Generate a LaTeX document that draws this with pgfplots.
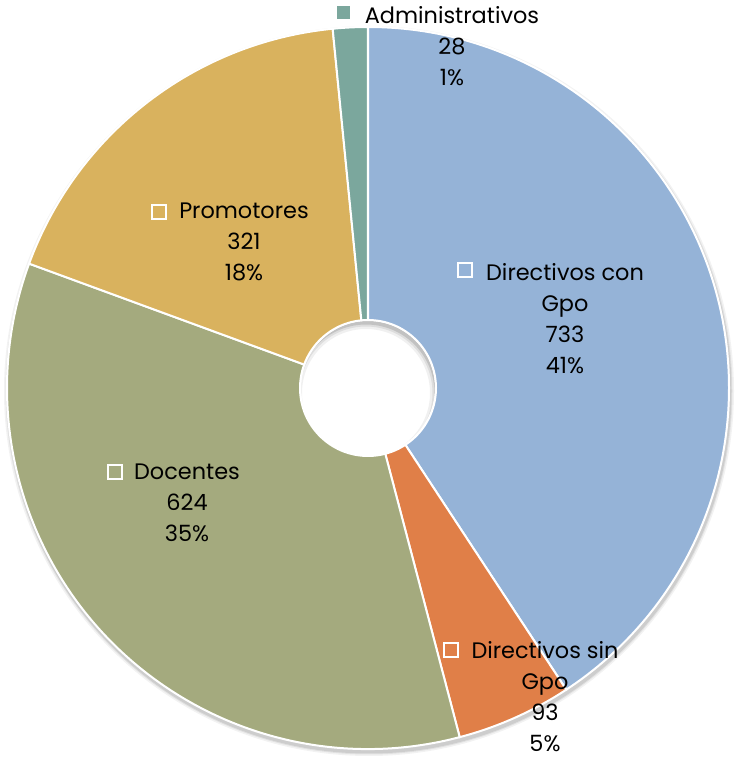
\documentclass[border=0pt]{standalone}
\usepackage{pgfplots}
\pgfplotsset{compat=1.18}
\usepackage{pgfplotstable}
\usepackage{fontspec}
\setmainfont{Poppins}

\definecolor{cDirCon}{HTML}{95B3D7}
\definecolor{cDirSin}{HTML}{E07F48}
\definecolor{cDoc}{HTML}{A4AA7E}
\definecolor{cPro}{HTML}{D9B25E}
\definecolor{cAdm}{HTML}{7BA79D}

\pgfplotstableread[col sep=comma]{
label,value
Directivos con Gpo,733
Directivos sin Gpo,93
Docentes,624
Promotores,321
Administrativos,28
}\datatable

\newcommand\getval[2]{\pgfplotstablegetelem{#1}{value}\of\datatable\edef#2{\pgfplotsretval}}

\begin{document}
\begin{tikzpicture}[lbl/.style={align=center,font=\fontsize{22.4}{31}\selectfont,inner sep=0pt},
  key/.style={draw=white,line width=1.8pt,minimum size=14pt,inner sep=0pt},
  slice/.style={draw=white,line width=2pt}]
\getval{0}\va
\getval{1}\vb
\getval{2}\vc
\getval{3}\vd
\getval{4}\ve
\pgfmathsetmacro\tot{\va+\vb+\vc+\vd+\ve}
\pgfmathsetmacro\aA{90}
\pgfmathsetmacro\aB{\aA-360*(\va/\tot)}
\pgfmathsetmacro\aC{\aB-360*(\vb/\tot)}
\pgfmathsetmacro\aD{\aC-360*(\vc/\tot)}
\pgfmathsetmacro\aE{\aD-360*(\vd/\tot)}
\pgfmathsetmacro\aF{\aE-360*(\ve/\tot)}
\begin{axis}[x=1pt,y=1pt,xmin=-368,xmax=366,ymin=-372,ymax=388,
  hide axis,clip=false,scale only axis]
\coordinate (bl) at (axis cs:-368,-372);
\coordinate (tr) at (axis cs:366,388);
% soft outer shadow
\fill[black,opacity=0.05] (axis cs:1,-3) circle[radius=365pt];
\fill[black,opacity=0.07] (axis cs:1,-3) circle[radius=363.5pt];
\fill[black,opacity=0.09] (axis cs:1,-3) circle[radius=362.5pt];
% slices
\fill[cDirCon,slice] (axis cs:0,0) -- ++(\aA:361pt) arc[start angle=\aA,end angle=\aB,radius=361pt] -- cycle;
\fill[cDirSin,slice] (axis cs:0,0) -- ++(\aB:361pt) arc[start angle=\aB,end angle=\aC,radius=361pt] -- cycle;
\fill[cDoc,slice] (axis cs:0,0) -- ++(\aC:361pt) arc[start angle=\aC,end angle=\aD,radius=361pt] -- cycle;
\fill[cPro,slice] (axis cs:0,0) -- ++(\aD:361pt) arc[start angle=\aD,end angle=\aE,radius=361pt] -- cycle;
\fill[cAdm,slice] (axis cs:0,0) -- ++(\aE:361pt) arc[start angle=\aE,end angle=\aF,radius=361pt] -- cycle;
% hole
\fill[white] (axis cs:0,0) circle[radius=68pt];
\begin{scope}
\clip (axis cs:0,0) circle[radius=67pt];
\draw[black,opacity=0.06,line width=16pt] (axis cs:-2,-5) circle[radius=72pt];
\draw[black,opacity=0.08,line width=11pt] (axis cs:-2,-5) circle[radius=72pt];
\draw[black,opacity=0.12,line width=7pt] (axis cs:-2,-5) circle[radius=72pt];
\end{scope}
\draw[white,line width=2pt] (axis cs:0,0) circle[radius=68pt];
% labels
\node[lbl] at (axis cs:197,69.5) {Directivos con\\Gpo\\733\\41\%};
\node[key] at (axis cs:97,118) {};
\node[lbl] at (axis cs:177,-309) {Directivos sin\\Gpo\\93\\5\%};
\node[key] at (axis cs:83,-262) {};
\node[lbl] at (axis cs:-181,-115) {Docentes\\624\\35\%};
\node[key] at (axis cs:-253,-84) {};
\node[lbl] at (axis cs:-124,146.5) {Promotores\\321\\18\%};
\node[key] at (axis cs:-209,176) {};
\node[lbl] at (axis cs:84,341.5) {Administrativos\\28\\1\%};
\node[fill=cAdm,minimum size=13pt,inner sep=0pt] at (axis cs:-25,375) {};
\end{axis}
\pgfresetboundingbox
\path (bl) rectangle (tr);
\end{tikzpicture}
\end{document}
